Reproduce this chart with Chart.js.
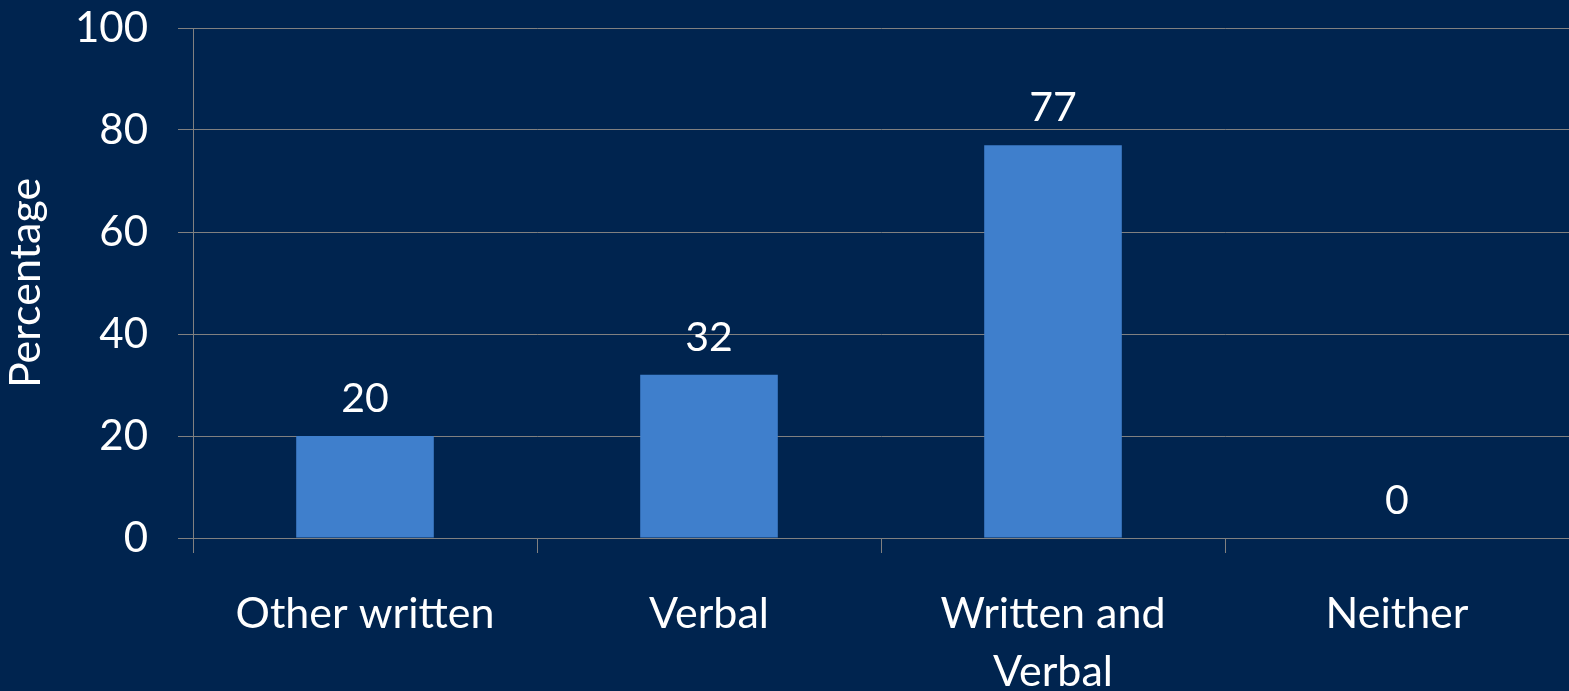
<!DOCTYPE html>
<html>
<head>
<meta charset="utf-8">
<script src="https://cdn.jsdelivr.net/npm/chart.js@4"></script>
<style>
  html, body { margin: 0; padding: 0; background: #00244F; }
  #wrap { width: 1569px; height: 691px; }
</style>
</head>
<body>
<div id="wrap"><canvas id="chart"></canvas></div>
<script>
// Data
const categories = ["Other written", "Verbal", ["Written and", "Verbal"], "Neither"];
const percentages = [20, 32, 77, 0];
const yTicks = [0, 20, 40, 60, 80, 100];

const FONT = "Lato, 'Open Sans', sans-serif";

// draws the value above each bar, placed from the bar element itself
const valueLabels = {
  id: "valueLabels",
  afterDatasetsDraw(chart) {
    const ctx = chart.ctx;
    const meta = chart.getDatasetMeta(0);
    ctx.save();
    ctx.font = "41px " + FONT;
    ctx.fillStyle = "#ffffff";
    ctx.textAlign = "center";
    ctx.textBaseline = "bottom";
    meta.data.forEach((bar, i) => {
      ctx.fillText(String(percentages[i]), bar.x, bar.y - 17);
    });
    ctx.restore();
  }
};

new Chart(document.getElementById("chart"), {
  type: "bar",
  data: {
    labels: categories,
    datasets: [{
      label: "Percentage",
      data: percentages,
      backgroundColor: "#3F7FCC",
      barPercentage: 0.4,
      categoryPercentage: 1.0
    }]
  },
  options: {
    responsive: true,
    maintainAspectRatio: false,
    animation: false,
    layout: { padding: 0 },
    plugins: {
      legend: { display: false },
      tooltip: { enabled: false }
    },
    scales: {
      x: {
        offset: true,
        grid: {
          offset: true,
          drawOnChartArea: false,
          color: "#808080",
          tickLength: 15
        },
        border: { color: "#808080" },
        ticks: {
          color: "#ffffff",
          font: { family: FONT, size: 43, lineHeight: 1.35 },
          padding: 32,
          maxRotation: 0
        },
        afterFit: s => { s.height = 153; }
      },
      y: {
        min: 0,
        max: 100,
        afterBuildTicks: s => { s.ticks = yTicks.map(v => ({ value: v })); },
        grid: { color: "#808080", tickLength: 15 },
        border: { color: "#808080" },
        ticks: {
          color: "#ffffff",
          font: { family: FONT, size: 42 },
          padding: 30
        },
        title: {
          display: true,
          text: "Percentage",
          color: "#ffffff",
          font: { family: FONT, size: 43 },
          padding: 0
        },
        afterFit: s => {
          s.width = 193;
          s.paddingTop = 28;
          s.paddingBottom = 0;
        }
      }
    }
  },
  plugins: [valueLabels]
});
</script>
</body>
</html>
